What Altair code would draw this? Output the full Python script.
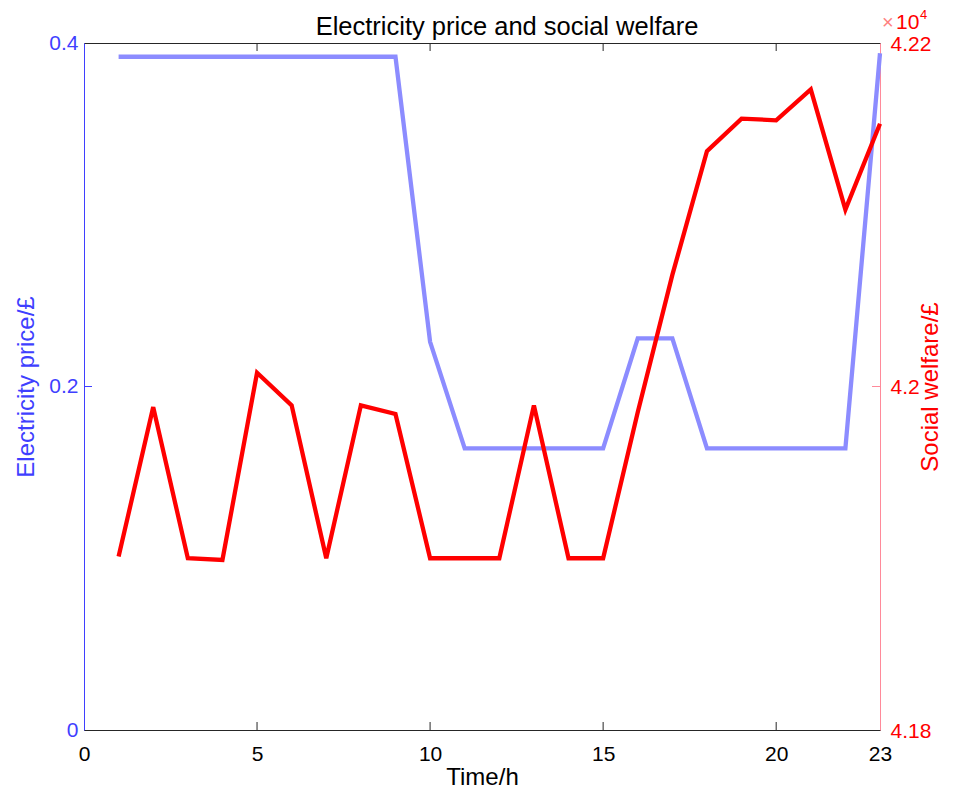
import altair as alt
import pandas as pd

hours = list(range(1, 24))
price = [0.392, 0.392, 0.392, 0.392, 0.392, 0.392, 0.392, 0.392, 0.392,
         0.226, 0.164, 0.164, 0.164, 0.164, 0.164, 0.228, 0.228,
         0.164, 0.164, 0.164, 0.164, 0.164, 0.394]
welfare = [41901, 41988, 41900, 41899, 42008, 41989, 41900, 41989, 41984,
           41900, 41900, 41900, 41989, 41900, 41900, 41985, 42065,
           42137, 42156, 42155, 42173, 42103, 42153]
x_tick_values = [0, 5, 10, 15, 20, 23]
x_inner_ticks = [5, 10, 15, 20]
price_ticks = [0, 0.2, 0.4]
welfare_ticks = [41800, 42000, 42200]

W, H = 796, 687
FONT = "Liberation Sans"
BLUE_LINE = "#8c8cff"
BLUE_AXIS = "#3f3fff"
RED = "#ff0000"
RED_AXIS = "#ff8a9a"
DARK = "#262626"

df = pd.DataFrame({"hour": hours, "price": price, "welfare": welfare})

x_scale = alt.Scale(domain=[0, 23], nice=False, zero=False)
p_scale = alt.Scale(domain=[0, 0.4], nice=False)
w_scale = alt.Scale(domain=[41800, 42200], nice=False, zero=False)

X = alt.X("hour:Q", scale=x_scale,
          axis=alt.Axis(values=x_tick_values, title="Time/h", tickSize=0,
                        domainColor=DARK, labelColor="#000000", titleColor="#000000",
                        labelFontSize=21, titleFontSize=24, labelPadding=13,
                        titlePadding=1, grid=False, labelFlush=False))

price_line = alt.Chart(df).mark_line(color=BLUE_LINE, strokeWidth=4.3).encode(
    x=X,
    y=alt.Y("price:Q", scale=p_scale,
            axis=alt.Axis(orient="left", values=price_ticks, title="Electricity price/£",
                          labelExpr="toString(datum.value)", tickSize=0,
                          domainColor=BLUE_AXIS, labelColor=BLUE_AXIS, titleColor=BLUE_AXIS,
                          labelFontSize=21, titleFontSize=24, labelPadding=6,
                          titlePadding=10, grid=False)),
)

welfare_line = alt.Chart(df).mark_line(color=RED, strokeWidth=4.3).encode(
    x=X,
    y=alt.Y("welfare:Q", scale=w_scale,
            axis=alt.Axis(orient="right", values=welfare_ticks, title="Social welfare/£",
                          labelExpr="toString(datum.value / 10000)", tickSize=0,
                          domainColor=RED_AXIS, labelColor=RED, titleColor=RED,
                          labelFontSize=21, titleFontSize=24, labelPadding=10,
                          titlePadding=12, titleAngle=270, grid=False, labelOffset=1)),
)

xt = pd.DataFrame({"hour": x_inner_ticks})
bottom_ticks = alt.Chart(xt).mark_rule(color=DARK, strokeWidth=1).encode(
    x=X, y=alt.value(H), y2=alt.value(H - 8))
top_ticks = alt.Chart(xt).mark_rule(color=DARK, strokeWidth=1).encode(
    x=X, y=alt.value(0), y2=alt.value(8))

left_tick = alt.Chart(pd.DataFrame({"v": [0.2]})).mark_rule(color=BLUE_AXIS, strokeWidth=1).encode(
    y=alt.Y("v:Q", scale=p_scale, axis=None), x=alt.value(0), x2=alt.value(8))
right_tick = alt.Chart(pd.DataFrame({"v": [42000]})).mark_rule(color=RED_AXIS, strokeWidth=1).encode(
    y=alt.Y("v:Q", scale=w_scale, axis=None), x=alt.value(W - 8), x2=alt.value(W))

times = alt.Chart(pd.DataFrame({"s": ["×"]})).mark_text(
    color="#ff8080", fontSize=20, font=FONT, align="left", baseline="alphabetic").encode(
    text="s:N", x=alt.value(W + 2), y=alt.value(-14))
ten = alt.Chart(pd.DataFrame({"s": ["10"]})).mark_text(
    color=RED, fontSize=21, font=FONT, align="left", baseline="alphabetic").encode(
    text="s:N", x=alt.value(W + 16), y=alt.value(-14))
four = alt.Chart(pd.DataFrame({"s": ["4"]})).mark_text(
    color=RED, fontSize=13, font=FONT, align="left", baseline="alphabetic").encode(
    text="s:N", x=alt.value(W + 40), y=alt.value(-24))

title = alt.Chart(pd.DataFrame({"s": ["Electricity price and social welfare"]})).mark_text(
    color="#000000", fontSize=25.5, font=FONT, align="center", baseline="alphabetic").encode(
    text="s:N", x=alt.value(W / 2 + 25), y=alt.value(-8))

chart = alt.layer(
    price_line, welfare_line, bottom_ticks, top_ticks, left_tick, right_tick,
    times, ten, four, title
).resolve_scale(y="independent").properties(
    width=W, height=H,
    autosize=alt.AutoSizeParams(type="none"),
    padding={"left": 76, "top": 35, "right": 90, "bottom": 60},
).configure(
    font=FONT
).configure_view(
    stroke=DARK, strokeWidth=1
).configure_axis(
    labelFont=FONT, titleFont=FONT, titleFontWeight="normal"
)

chart.save("out.html", embed_options={"renderer": "svg", "actions": False})
